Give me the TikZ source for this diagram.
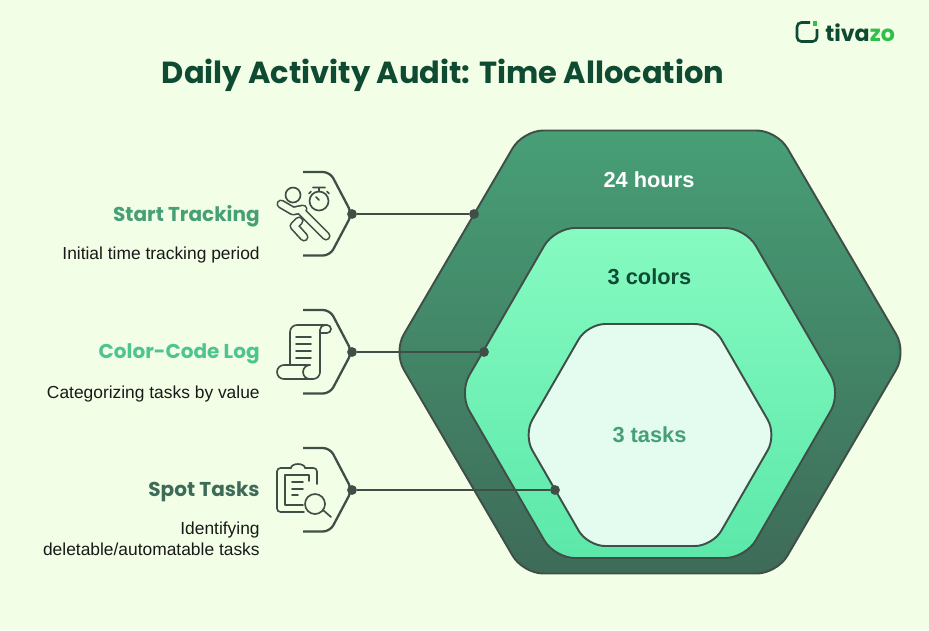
\documentclass[tikz,border=0pt]{standalone}
\usepackage{fontspec}
\setmainfont{Liberation Sans}
\newfontfamily\headfont{Poppins}
\usetikzlibrary{positioning}
\definecolor{pagebg}{HTML}{F2FEE5}
\definecolor{inkline}{HTML}{3F4F47}
\definecolor{darkgreen}{HTML}{0F4A33}
\definecolor{outertop}{HTML}{479F76}
\definecolor{outerbot}{HTML}{3E6B58}
\definecolor{midtop}{HTML}{86FAC1}
\definecolor{midbot}{HTML}{5CE8AA}
\definecolor{innerfill}{HTML}{E3FCEF}
\definecolor{logogreen}{HTML}{2FBF4A}
\tikzset{
  hexline/.style={draw=inkline,line width=1.1pt,rounded corners=11.5pt},
  wire/.style={draw=inkline,line width=1.1pt},
  bracket/.style={draw=inkline,line width=1.3pt,rounded corners=4pt},
  dot/.style={circle,fill=inkline,inner sep=0pt,minimum size=5.6pt},
  glyph/.style={draw=inkline,line width=.95pt,line cap=round,line join=round},
  head/.style={anchor=east,inner sep=0pt,font=\headfont\bfseries\fontsize{11.4}{14}\selectfont},
  note/.style={anchor=east,inner sep=0pt,align=right,text=black!90,font=\fontsize{9.9}{12}\selectfont},
  inlabel/.style={font=\bfseries\fontsize{12.4}{14}\selectfont}
}
\begin{document}
\begin{tikzpicture}[x=.02cm,y=-.02cm]
\path[use as bounding box,fill=pagebg](0,0) rectangle (929,630);
% hexagons
\path[hexline,top color=outertop,bottom color=outerbot](523,130.5)--(777,130.5)--(906.5,352)--(777,573.5)--(523,573.5)--(393.5,352)--cycle;
\path[hexline,top color=midtop,bottom color=midbot](554.5,228)--(745.5,228)--(841,393)--(745.5,558)--(554.5,558)--(459,393)--cycle;
\path[hexline,rounded corners=10pt,fill=innerfill](587.5,324)--(712.5,324)--(776.5,435)--(712.5,546)--(587.5,546)--(523.5,435)--cycle;
\node[inlabel,text=white] (hours) at (649,180){24 hours};
\node[inlabel,text=darkgreen] (colors) at (649.5,277){3 colors};
\node[inlabel,text=outertop] (tasks) at (649.5,435){3 tasks};
% title and logo
\node[font=\headfont\bfseries\fontsize{17.35}{20}\selectfont,text=darkgreen] (title) at (443,75.5){Daily Activity Audit: Time Allocation};
\draw[darkgreen,line width=1.5pt,rounded corners=2.5pt](810,22.5)--(797,22.5)--(797,41.5)--(817,41.5)--(817,29);
\fill[logogreen](812.5,21) rectangle (817,25.5);
\node[font=\headfont\bfseries\fontsize{12.6}{14}\selectfont,anchor=west,inner sep=0pt] (logo) at (825,32.5){\textcolor{darkgreen}{tiva}\textcolor{logogreen}{zo}};
% brackets and connectors
\foreach \name/\yy/\xend in {A/214/474,B/352/484,C/490/555}{
  \node[dot] (left\name) at (352,\yy){};
  \node[dot] (right\name) at (\xend,\yy){};
  \coordinate (up\name) at (303,\yy-42);
  \coordinate (down\name) at (303,\yy+41.5);
  \draw[bracket] (up\name)--(330,\yy-42)--(left\name.center)--(330,\yy+41.5)--(down\name);
  \draw[wire] (left\name)--(right\name);
}
% labels
\node[head,text=outertop] (startH) at (260,216){Start Tracking};
\node[note] (startN) at (260,255){Initial time tracking period};
\node[head,text=midbot!85!black] (logH) at (260,354){Color-Code Log};
\node[note] (logN) at (260,394){Categorizing tasks by value};
\node[head,text=outerbot] (spotH) at (260,492){Spot Tasks};
\node[note] (spotN) at (260,538.5){Identifying\\deletable/automatable tasks};
% runner icon
\draw[glyph] (293,195) circle (7.5);
\draw[glyph] (319,201) circle (9.5);
\draw[glyph] (319,191.5)--(319,188) (313,187.5)--(325,187.5) (309,193.5)--(311,191.5) (329,193.5)--(327,191.5) (319,200)--(316,197);
\draw[inkline,line width=5.2pt,line cap=round,line join=round] (281,204)--(293,211)--(303,209) (301,211)--(326,236) (299,221)--(294,226)--(304,237);
\draw[pagebg,line width=3.3pt,line cap=round,line join=round] (281,204)--(293,211)--(303,209) (301,211)--(326,236) (299,221)--(294,226)--(304,237);
% scroll icon
\draw[glyph] (290,365)--(290,332) arc (180:270:7)--(327,325) arc (270:450:4)--(320,333);
\draw[glyph] (320,372)--(320,330) arc (180:270:5);
\draw[glyph] (310,365)--(284,365) arc (270:90:7)--(313,379) arc (90:0:7);
\draw[glyph] (310,365) arc (270:90:7);
\foreach \yy in {337,344,351,358}{\draw[glyph] (296,\yy)--(311,\yy);}
% clipboard icon
\draw[glyph,rounded corners=2pt] (317,484)--(317,468)--(305,468);
\draw[glyph] (305,468) arc (0:-180:7 and 4);
\draw[glyph,rounded corners=2pt] (291,468)--(277,468)--(277,512)--(304,512);
\draw[glyph] (309,481)--(309,475)--(285,475)--(285,505)--(303,505);
\foreach \yy/\xx in {482/303,489/303,495/298}{\draw[glyph] (292,\yy)--(\xx,\yy);}
\draw[glyph] (315,504) circle (10);
\draw[glyph] (323,510)--(331,517);
\end{tikzpicture}
\end{document}
